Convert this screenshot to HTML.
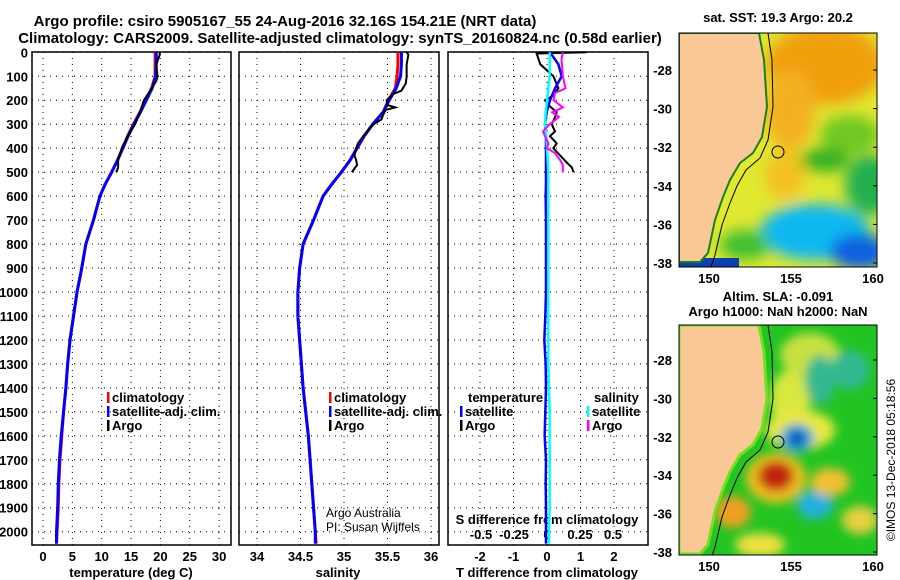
<!DOCTYPE html>
<html><head><meta charset="utf-8"><style>
html,body{margin:0;padding:0;background:#fff;}
svg{display:block;font-family:"Liberation Sans",sans-serif;}
.b{font-weight:bold;font-size:13px;}
</style></head><body>
<svg id="fig" width="900" height="580" viewBox="0 0 900 580">
<defs>
<filter id="bl" x="-50%" y="-50%" width="200%" height="200%"><feGaussianBlur stdDeviation="7"/></filter>
<filter id="bl2" x="-50%" y="-50%" width="200%" height="200%"><feGaussianBlur stdDeviation="5"/></filter>
<clipPath id="c1"><rect x="679" y="33" width="198" height="234"/></clipPath>
<clipPath id="c2"><rect x="679" y="325" width="198" height="230"/></clipPath>
</defs>
<text x="285" y="26" text-anchor="middle" class="b" style="font-size:15px">Argo profile: csiro 5905167_55 24-Aug-2016 32.16S 154.21E (NRT data)</text>
<text x="340" y="43" text-anchor="middle" class="b" style="font-size:15px">Climatology: CARS2009. Satellite-adjusted climatology: synTS_20160824.nc (0.58d earlier)</text>
<g id="plots"></g>
<g id="maps">
 <text x="778" y="22" text-anchor="middle" class="b" font-size="12">sat. SST: 19.3 Argo: 20.2</text>
 <g clip-path="url(#c1)">
  <rect x="679" y="33" width="198" height="234" fill="#e0e830"/>
  <g filter="url(#bl)">
   <ellipse cx="825" cy="65" rx="60" ry="40" fill="#f0a010"/>
   <ellipse cx="790" cy="110" rx="25" ry="40" fill="#f4b020"/>
   <ellipse cx="785" cy="175" rx="20" ry="25" fill="#f4c020"/>
   <ellipse cx="850" cy="135" rx="30" ry="20" fill="#70c820"/>
   <ellipse cx="825" cy="160" rx="25" ry="12" fill="#30b020"/>
   <ellipse cx="870" cy="185" rx="25" ry="30" fill="#20b050"/>
   <ellipse cx="815" cy="232" rx="55" ry="28" fill="#10b8f0"/>
   <ellipse cx="860" cy="252" rx="30" ry="18" fill="#1060e0"/>
   <ellipse cx="745" cy="245" rx="25" ry="15" fill="#40c030"/>
  </g>
  <rect x="679" y="258" width="60" height="9" fill="#1040b0"/>
  <polygon points="679,33 759,33 764,60 767,107 762,137 753,153 740,163 730,180 723,197 715,220 708,253 700,262 679,262" fill="#f9c896" stroke="#1a8020" stroke-width="2"/>
  <polyline points="768,33 772,60 773,107 768,140 760,158 746,170 737,186 730,203 722,225 715,255 711,267" fill="none" stroke="#000" stroke-width="1"/>
  <circle cx="778" cy="152" r="6" fill="none" stroke="#000" stroke-width="1"/>
 </g>
 <rect x="679" y="33" width="198" height="234" fill="none" stroke="#000"/>
 <text x="778" y="301" text-anchor="middle" class="b" font-size="12">Altim. SLA: -0.091</text>
 <text x="778" y="316" text-anchor="middle" class="b" font-size="12">Argo h1000: NaN h2000: NaN</text>
 <g clip-path="url(#c2)">
  <rect x="679" y="325" width="198" height="230" fill="#22c422"/>
  <g filter="url(#bl2)">
   <ellipse cx="790" cy="400" rx="20" ry="30" fill="#d8e840"/>
   <ellipse cx="810" cy="355" rx="30" ry="22" fill="#c8e040"/>
   <ellipse cx="800" cy="430" rx="35" ry="20" fill="#e8e840"/>
   <ellipse cx="776" cy="478" rx="30" ry="25" fill="#f0c020"/>
   <ellipse cx="776" cy="476" rx="18" ry="15" fill="#c02010"/>
   <ellipse cx="797" cy="438" rx="17" ry="14" fill="#20a0e0"/>
   <ellipse cx="797" cy="438" rx="8" ry="7" fill="#1040b0"/>
   <ellipse cx="815" cy="505" rx="18" ry="14" fill="#20b0e0"/>
   <ellipse cx="733" cy="512" rx="18" ry="16" fill="#f0a020"/>
   <ellipse cx="830" cy="482" rx="20" ry="14" fill="#f0c030"/>
   <ellipse cx="860" cy="520" rx="18" ry="14" fill="#e8d040"/>
   <ellipse cx="760" cy="545" rx="25" ry="12" fill="#f0e040"/>
   <ellipse cx="820" cy="380" rx="15" ry="25" fill="#30b890"/>
   <ellipse cx="850" cy="370" rx="20" ry="20" fill="#30b890"/>
  </g>
  <g transform="translate(0,292)">
  <polygon points="679,33 759,33 764,60 767,107 762,137 753,153 740,163 730,180 723,197 715,220 708,253 700,262 679,262" fill="#f9c896" stroke="#70e020" stroke-width="3"/>
  <polyline points="768,33 772,60 773,107 768,140 760,158 746,170 737,186 730,203 722,225 715,255 711,267" fill="none" stroke="#000" stroke-width="1"/>
  <circle cx="778" cy="150" r="6" fill="none" stroke="#000" stroke-width="1"/>
  </g>
 </g>
 <rect x="679" y="325" width="198" height="230" fill="none" stroke="#000"/>
 <text transform="translate(895,460) rotate(-90)" text-anchor="middle" font-size="12">©IMOS 13-Dec-2018 05:18:56</text>
</g>
</svg>
<script>
const depths=[0,50,100,150,200,250,300,350,400,450,500,550,600,700,800,900,1000,1100,1200,1300,1400,1500,1600,1700,1800,1900,2000,2050];
const tempClim=[19.1,19.1,19.1,18.5,17.5,16.5,15.4,14.4,13.6,12.7,11.7,10.6,9.7,8.6,7.3,6.6,5.8,5.2,4.6,4.2,3.9,3.5,3.2,2.9,2.7,2.6,2.4,2.3];
const tempSat=[19.3,19.3,19.2,18.6,17.6,16.6,15.5,14.5,13.6,12.7,11.7,10.6,9.7,8.6,7.3,6.6,5.8,5.2,4.6,4.2,3.9,3.5,3.1,2.8,2.6,2.5,2.3,2.3];
const salClim=[35.62,35.62,35.61,35.59,35.51,35.45,35.33,35.23,35.15,35.07,34.97,34.86,34.76,34.65,34.53,34.49,34.47,34.47,34.49,34.51,34.53,34.56,34.59,34.61,34.63,34.65,34.67,34.68];
const salSat=[35.66,35.66,35.65,35.6,35.52,35.45,35.33,35.23,35.15,35.07,34.97,34.86,34.76,34.65,34.53,34.49,34.47,34.47,34.49,34.51,34.53,34.56,34.59,34.61,34.63,34.65,34.67,34.67];
const argoDepths=[0,10,50,100,120,150,200,250,300,350,400,450,480,500];
const argoTemp=[19.9,19.9,19.3,19.5,19.3,18.5,17.2,16.5,15.7,14.4,13.4,12.8,12.8,12.5];
const argoSalDepths=[0,10,50,100,130,160,175,200,220,230,240,260,280,300,350,380,400,430,450,470,500];
const argoSal=[35.72,35.74,35.72,35.72,35.71,35.66,35.56,35.49,35.5,35.59,35.48,35.45,35.43,35.34,35.22,35.16,35.14,35.12,35.14,35.15,35.09];
const dtArgoDepths=[0,5,50,100,150,180,200,220,250,270,300,330,350,380,400,430,460,480,500];
const dtArgo=[1.18,-0.31,-0.2,0.19,0.34,0.19,-0.06,0.04,0.29,0.24,0.14,0.24,0.09,0.29,0.19,0.39,0.59,0.74,0.79];
const dtSat=[0.09,0.34,0.44,0.24,0.09,-0.01,-0.06,-0.03,-0.03,-0.03,-0.03,-0.03,-0.04,-0.03,-0.03,-0.03,-0.03,-0.05,-0.08,-0.04,-0.03,-0.05,-0.07,-0.03,-0.04,-0.03,-0.03,-0.03];
const dsSat=[0.02,0.02,0.02,0.01,0.0,-0.01,-0.015,-0.005,0.0,0.005,0.01,0.01,0.01,0.01,0.01,0.01,0.01,0.01,0.01,0.01,0.015,0.02,0.02,0.02,0.02,0.02,0.015,0.015];
const dsArgoDepths=[0,30,100,150,170,200,230,250,270,300,330,350,380,400,420,450,470,500];
const dsArgo=[0.12,0.11,0.12,0.14,0.06,0.05,0.12,0.04,0.09,0.02,-0.03,-0.015,0.01,0.0,0.06,0.1,0.12,0.12];
const depthTicks=[0,100,200,300,400,500,600,700,800,900,1000,1100,1200,1300,1400,1500,1600,1700,1800,1900,2000];
const tempTicks=[0,5,10,15,20,25,30];
const salTicks=[34,34.5,35,35.5,36];
const salTickLabels=["34","34.5","35","35.5","36"];
const dtTicks=[-2,-1,0,1,2];
const dsTicks=[-0.5,-0.25,0,0.25,0.5];
const dsTickLabels=["-0.5","-0.25","0","0.25","0.5"];
const mapLat=[-28,-30,-32,-34,-36,-38];
const mapLon=[150,155,160];

const NS='http://www.w3.org/2000/svg';
const g=document.getElementById('plots');
function mk(tag,at,parent){const e=document.createElementNS(NS,tag);for(const k in at)e.setAttribute(k,at[k]);(parent||g).appendChild(e);return e;}
const yD=d=>52.3+d*0.2397;
const xT=t=>43+t*5.87;
const xS=s=>257+(s-34)*87;
const xDT=t=>547+t*33.5;
const xDS=s=>547+s*132;
const TOP=52,BOT=545;

function frame(x0,x1,name){
  const r=mk('rect',{x:x0,y:TOP,width:x1-x0,height:BOT-TOP,fill:'none',stroke:'#000','stroke-width':1.5});
  
  
  depthTicks.forEach(d=>{
    const l=mk('line',{x1:x0,x2:x1,y1:yD(d),y2:yD(d),stroke:'#000','stroke-dasharray':'1,5'});
    
    
  });
}
function vgrid(ticks,fx){
  ticks.forEach(t=>{
    const l=mk('line',{x1:fx(t),x2:fx(t),y1:TOP,y2:BOT,stroke:'#000','stroke-dasharray':'1,5'});
    
    
  });
}
function line(xs,ds,fx,color,w,name){
  const p=mk('polyline',{points:xs.map((v,i)=>fx(v)+','+yD(ds[i])).join(' '),fill:'none',stroke:color,'stroke-width':w});
  
  
}
function txt(x,y,s,name,anchor,extra){
  const t=mk('text',Object.assign({x:x,y:y,'text-anchor':anchor||'start',class:'b'},extra||{}));
  t.textContent=s;
  
  
  return t;
}
frame(32,231,'temperature-panel');frame(239,439,'salinity-panel');frame(448,648,'difference-panel');
vgrid(tempTicks,xT);vgrid(salTicks,xS);vgrid(dtTicks,xDT);
depthTicks.forEach(d=>txt(28,yD(d)+5,String(d),'depth-tick-label','end'));
tempTicks.forEach(t=>txt(xT(t),561,String(t),'temperature-tick-label','middle'));
salTicks.forEach((t,i)=>txt(xS(t),561,salTickLabels[i],'salinity-tick-label','middle'));
dtTicks.forEach(t=>txt(xDT(t),561,String(t),'t-difference-tick-label','middle'));
dsTicks.forEach((t,i)=>txt(xDS(t),539,dsTickLabels[i],'s-difference-tick-label','middle'));
txt(131,577,'temperature (deg C)','temperature-axis-title','middle');
txt(338,577,'salinity','salinity-axis-title','middle');
txt(547,577,'T difference from climatology','t-difference-axis-title','middle');
txt(547,524,'S difference from climatology','s-difference-axis-title','middle');
line(tempClim,depths,xT,'#ff0000',3,'temperature-climatology-line');
line(tempSat,depths,xT,'#0000ff',3,'temperature-satellite-line');
line(argoTemp,argoDepths,xT,'#000',2,'temperature-argo-line');
line(salClim,depths,xS,'#ff0000',3,'salinity-climatology-line');
line(salSat,depths,xS,'#0000ff',3,'salinity-satellite-line');
line(argoSal,argoSalDepths,xS,'#000',2,'salinity-argo-line');
line(dtArgo,dtArgoDepths,xDT,'#000',2,'t-difference-argo-line');
line(dtSat,depths,xDT,'#0000ff',2.5,'t-difference-satellite-line');
line(dsSat,depths,xDS,'#00ffff',2.5,'s-difference-satellite-line');
line(dsArgo,dsArgoDepths,xDS,'#ff00ff',2,'s-difference-argo-line');
function leg(x,y,color,label,name){
  const r=mk('rect',{x:x,y:y-10,width:2.5,height:11,fill:color});
  
  
  txt(x+5,y,label,name);
}
leg(107,402,'#ff0000','climatology','legend-temp-climatology');
leg(107,416,'#0000ff','satellite-adj. clim.','legend-temp-satellite');
leg(107,430,'#000','Argo','legend-temp-argo');
leg(329,402,'#ff0000','climatology','legend-sal-climatology');
leg(329,416,'#0000ff','satellite-adj. clim.','legend-sal-satellite');
leg(329,430,'#000','Argo','legend-sal-argo');
txt(468,402,'temperature','legend-temperature-heading');
leg(460,416,'#0000ff','satellite','legend-dt-satellite');
leg(460,430,'#000','Argo','legend-dt-argo');
txt(594,402,'salinity','legend-salinity-heading');
leg(587,416,'#00ffff','satellite','legend-ds-satellite');
leg(587,430,'#ff00ff','Argo','legend-ds-argo');
txt(326,517,'Argo Australia','credit-line-1','start',{class:'',style:'font-size:12px'});
txt(326,531,'PI: Susan Wijffels','credit-line-2','start',{class:'',style:'font-size:12px'});
const mapG=document.getElementById('maps');
function mapAxes(latY0,latScale,bottomY){
  mapLat.forEach(l=>{
    const y=latY0+(-28-l)*latScale;
    const t=mk('text',{x:672,y:y+5,'text-anchor':'end',class:'b'},mapG);t.textContent=String(l);
    
    
    const tk=mk('line',{x1:873,x2:877,y1:y,y2:y,stroke:'#000'},mapG);
    
    
  });
  mapLon.forEach(l=>{
    const x=709+(l-150)*16.4;
    const t=mk('text',{x:x,y:bottomY+16,'text-anchor':'middle',class:'b'},mapG);t.textContent=String(l);
    
    
  });
}
mapAxes(70,19.3,267);
mapAxes(360,19.2,555);
</script>
</body></html>
